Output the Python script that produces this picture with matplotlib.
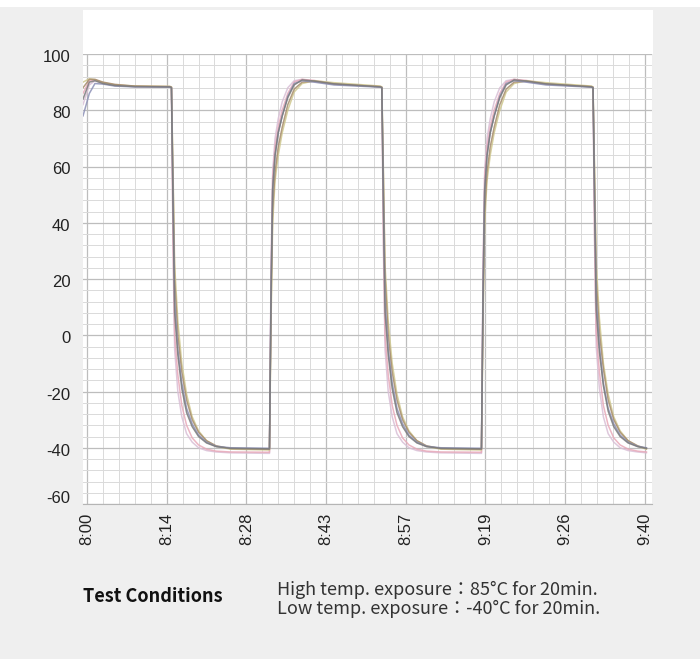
import matplotlib
matplotlib.use("Agg")
import matplotlib.pyplot as plt
import matplotlib.transforms as mtransforms
from matplotlib.patches import Rectangle
from matplotlib.ticker import MultipleLocator

# x positions are tick slots (labels are evenly spaced, not real time)
tick_labels = ["8:00", "8:14", "8:28", "8:43", "8:57", "9:19", "9:26", "9:40"]

t_idx = [
    -0.05, 0.03, 0.10, 0.20, 0.35, 0.60, 1.04,
    1.06, 1.08, 1.10, 1.14, 1.19, 1.25, 1.32, 1.40, 1.50, 1.62, 1.80, 2.29,
    2.31, 2.33, 2.36, 2.40, 2.45, 2.52, 2.60, 2.70, 2.85, 3.10, 3.68,
    3.70, 3.72, 3.74, 3.78, 3.83, 3.89, 3.96, 4.04, 4.14, 4.26, 4.44, 4.95,
    4.97, 4.99, 5.02, 5.06, 5.11, 5.18, 5.26, 5.36, 5.51, 5.76, 6.33,
    6.35, 6.37, 6.39, 6.43, 6.48, 6.54, 6.61, 6.69, 6.79, 6.91, 7.02,
]

# temperature channels (deg C)
ch_a = [
    84, 90, 90.5, 89.5, 88.8, 88.4, 88.3,
    88, 45, 8, -7, -19, -27.5, -32.5, -36, -38.3, -39.6, -40.2, -40.4,
    15, 52, 64, 72, 78, 84.5, 89, 90.8, 90.4, 89.4, 88.3,
    88, 44, 8, -7, -19, -27.5, -32.5, -36, -38.3, -39.6, -40.2, -40.4,
    14, 51, 64, 72, 78, 84.5, 89, 90.8, 90.4, 89.4, 88.3,
    88, 45, 9, -6, -18, -27, -32.5, -36, -38.3, -39.6, -40.2,
]
ch_b = [
    88, 91, 91, 90, 89.2, 88.6, 88.4,
    88.2, 55, 20, 0, -13, -23, -30, -34.5, -37.5, -39.3, -40.3, -40.5,
    10, 45, 58, 67, 74, 82, 87.5, 90, 90.3, 89.3, 88.4,
    88.2, 55, 21, 0, -13, -23, -30, -34.5, -37.5, -39.3, -40.3, -40.5,
    9, 44, 58, 67, 74, 82, 87.5, 90, 90.3, 89.3, 88.4,
    88.2, 55, 20, 1, -12, -23, -30, -34.5, -37.5, -39.3, -40.3,
]
ch_c = [
    86, 90.5, 90.8, 89.8, 89, 88.5, 88.4,
    88.1, 35, 0, -14, -25, -32, -36.5, -39, -40.5, -41.2, -41.5, -41.6,
    20, 56, 67, 74, 80, 86, 90, 91, 90.6, 89.5, 88.4,
    88.1, 36, 0, -14, -25, -32, -36.5, -39, -40.5, -41.2, -41.5, -41.6,
    20, 56, 67, 74, 80, 86, 90, 91, 90.6, 89.5, 88.4,
    88.1, 35, 1, -13, -25, -32, -36.5, -39, -40.5, -41.2, -41.5,
]
ch_d = [
    78, 86, 89.5, 89.3, 88.6, 88.3, 88.2,
    88, 48, 12, -5, -17, -26, -31.5, -35.5, -38, -39.5, -40, -40.2,
    18, 52, 64, 72, 78, 85, 89.5, 90.5, 90, 89, 88.2,
    88, 48, 12, -5, -17, -26, -31.5, -35.5, -38, -39.5, -40, -40.2,
    17, 52, 64, 72, 78, 85, 89.5, 90.5, 90, 89, 88.2,
    88, 48, 13, -4, -17, -26, -31.5, -35.5, -38, -39.5, -40,
]
ch_e = [
    90, 91.2, 90.8, 89.8, 89, 88.6, 88.5,
    88.3, 58, 25, 5, -10, -21, -29, -34, -37.5, -39.5, -40.5, -40.8,
    5, 40, 55, 64, 72, 80, 86.5, 89.5, 90.5, 89.8, 88.6,
    88.3, 58, 25, 5, -10, -21, -29, -34, -37.5, -39.5, -40.5, -40.8,
    5, 40, 55, 64, 72, 80, 86.5, 89.5, 90.5, 89.8, 88.6,
    88.3, 58, 26, 6, -10, -21, -29, -34, -37.5, -39.5, -40.5,
]
ch_f = [
    82, 89, 90.5, 89.6, 88.8, 88.4, 88.3,
    88, 30, -5, -20, -29, -35, -38, -40, -41, -41.5, -41.8, -42,
    25, 58, 70, 77, 83, 88, 90.5, 91, 90.2, 89.2, 88.3,
    88, 30, -5, -20, -29, -35, -38, -40, -41, -41.5, -41.8, -42,
    25, 58, 70, 77, 83, 88, 90.5, 91, 90.2, 89.2, 88.3,
    88, 31, -4, -19, -29, -35, -38, -40, -41, -41.5, -41.8,
]

channels = [ch_f, ch_c, ch_e, ch_b, ch_d, ch_a]
colors = ["#d9bfd6", "#e8a9b9", "#cfc88e", "#a68c6c", "#8c90b6", "#7a7a7a"]

fig = plt.figure(figsize=(7, 6.59), dpi=100)
fig.patch.set_facecolor("#efefef")
# thin white strip at the very top, white header above the plot
fig.add_artist(Rectangle((0, 1 - 7 / 659), 1, 7 / 659, transform=fig.transFigure,
                         facecolor="white", edgecolor="none"))
fig.add_artist(Rectangle((83 / 700, 1 - 54 / 659), 570 / 700, 44 / 659,
                         transform=fig.transFigure, facecolor="white", edgecolor="none"))

ax = fig.add_axes([83 / 700, 1 - 504 / 659, 569 / 700, 450 / 659])
ax.set_facecolor("white")

for vals, c in zip(channels, colors):
    ax.plot(t_idx, vals, color=c, lw=1.1, alpha=0.85, solid_joinstyle="round")

ax.set_xlim(-0.05, 7.09)
ax.set_ylim(-60, 100)
ax.set_xticks(range(len(tick_labels)))
ax.set_xticklabels(tick_labels, rotation=90, fontsize=12, family="Liberation Sans", color="#222222")
yticks = list(range(-60, 101, 20))
ax.set_yticks(yticks)
ax.set_yticklabels([str(v) for v in yticks], fontsize=12,
                   family="Liberation Sans", color="#222222")
ax.xaxis.set_minor_locator(MultipleLocator(0.2))
ax.yaxis.set_minor_locator(MultipleLocator(4))
ax.grid(which="major", color="#bdbdbd", lw=0.9)
ax.grid(which="minor", color="#dadada", lw=0.7)
ax.set_axisbelow(True)
ax.tick_params(which="both", length=0)
ax.tick_params(axis="y", pad=9)
ax.tick_params(axis="x", pad=6)
for s in ["top", "left", "right"]:
    ax.spines[s].set_visible(False)
ax.spines["bottom"].set_color("#b5b5b5")

# y labels sit a little below their lines, the bottom one is lifted
for lab, v in zip(ax.get_yticklabels(), yticks):
    dy = 7 / 100 if v == -60 else -2 / 100
    lab.set_transform(lab.get_transform() + mtransforms.ScaledTranslation(0, dy, fig.dpi_scale_trans))

fam = ["Noto Sans CJK JP", "DejaVu Sans"]
fig.text(83 / 700, 1 - 596 / 659, "Test Conditions", fontsize=13, fontweight="bold",
         family=fam, color="#111111", va="center", ha="left")
fig.text(277 / 700, 1 - 590 / 659, "High temp. exposure：85°C for 20min.", fontsize=13,
         family=fam, color="#333333", va="center", ha="left")
fig.text(277 / 700, 1 - 609 / 659, "Low temp. exposure：-40°C for 20min.", fontsize=13,
         family=fam, color="#333333", va="center", ha="left")

fig.savefig("out.png", dpi=100)
